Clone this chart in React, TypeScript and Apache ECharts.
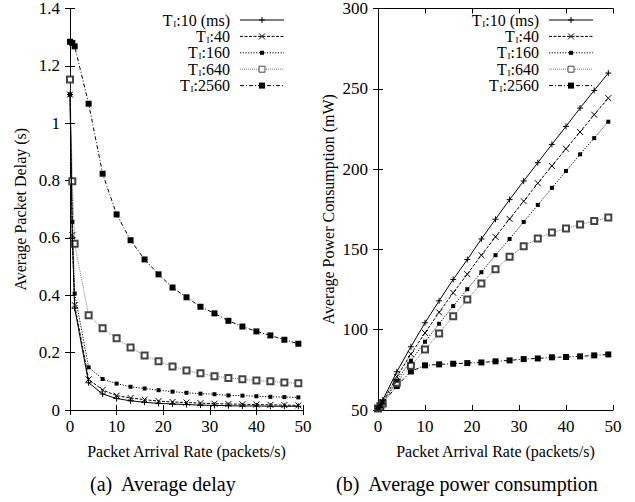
import React, { useEffect, useRef } from "react";
import * as echarts from "echarts";

const xRates = [0, 0.5, 1, 4, 7, 10, 13, 16, 19, 22, 25, 28, 31, 34, 37, 40, 43, 46, 49];
const seriesNames = ["10 (ms)", "40", "160", "640", "2560"];

const delay10 = [1.1, 0.6, 0.355, 0.095, 0.056, 0.04, 0.032, 0.027, 0.023, 0.021, 0.019, 0.017, 0.016, 0.015, 0.014, 0.014, 0.013, 0.013, 0.013];
const delay40 = [1.1, 0.61, 0.366, 0.107, 0.07, 0.05, 0.042, 0.036, 0.031, 0.028, 0.026, 0.024, 0.022, 0.021, 0.02, 0.019, 0.018, 0.017, 0.016];
const delay160 = [1.1, 0.656, 0.406, 0.149, 0.108, 0.092, 0.081, 0.075, 0.069, 0.064, 0.06, 0.057, 0.055, 0.051, 0.05, 0.048, 0.046, 0.045, 0.044];
const delay640 = [1.152, 0.798, 0.58, 0.33, 0.285, 0.25, 0.218, 0.19, 0.17, 0.152, 0.138, 0.128, 0.118, 0.112, 0.107, 0.103, 0.1, 0.096, 0.093];
const delay2560 = [1.284, 1.28, 1.268, 1.068, 0.824, 0.682, 0.592, 0.525, 0.473, 0.427, 0.393, 0.36, 0.337, 0.311, 0.291, 0.274, 0.26, 0.245, 0.231];

const power10 = [51, 53, 56.2, 73.8, 89.4, 104.3, 118, 131.3, 143.7, 156.5, 168.8, 181, 192.6, 204, 215.4, 226.6, 238, 249, 259.8];
const power40 = [51, 52.8, 55, 70.7, 84.8, 98, 110.8, 123, 134.6, 146.4, 157.8, 169, 180, 191.2, 202, 212.7, 223.1, 233.9, 244.2];
const power160 = [51, 52.5, 54.5, 68.2, 80.7, 92.5, 103.7, 114.7, 125.2, 135.8, 146.4, 156.5, 167.1, 177.7, 188.3, 198.8, 209.2, 219.3, 229.5];
const power640 = [51, 52.3, 54, 67, 77.6, 87.7, 97.7, 108.4, 118.8, 128.8, 137.7, 145.4, 152, 156.8, 160.5, 163, 165.5, 167.7, 169.8];
const power2560 = [50.9, 52, 54.2, 64.9, 74, 77.8, 78.4, 78.8, 79.2, 79.6, 80.3, 80.9, 81.7, 82.1, 82.8, 83, 83.4, 84, 84.6];

const FONT = '"Liberation Serif", "Times New Roman", serif';

const styles = [
  { symbol: "path://M0,5L10,5M5,0L5,10", size: 6, dash: "solid" as any, color: "#000" },
  { symbol: "path://M0,0L10,10M10,0L0,10", size: 6, dash: [3, 1.5] as any, color: "#000" },
  { symbol: "rect", size: 4, dash: [1.2, 1.5] as any, color: "#000" },
  { symbol: "emptyRect", size: 6, dash: [1, 1] as any, color: "#777" },
  { symbol: "rect", size: 6, dash: [4, 2, 1, 2] as any, color: "#000" },
];

function pair(ys: number[]) {
  return xRates.map((x, i) => [x, ys[i]]);
}

let measureCtx: CanvasRenderingContext2D | null = null;
function textWidth(text: string, size: number) {
  if (!measureCtx) measureCtx = document.createElement("canvas").getContext("2d");
  if (!measureCtx) return text.length * size * 0.5;
  measureCtx.font = `${size}px ${FONT}`;
  return measureCtx.measureText(text).width;
}

function legendGraphics(textRight: number, lineLeft: number, top: number) {
  const els: any[] = [];
  const lineW = 44;
  const MAIN = 16;
  const SUB = 9;
  seriesNames.forEach((n, i) => {
    const y = top + 16.4 * i;
    const s = styles[i];
    const cx = lineLeft + lineW / 2;
    const tail = `:${n}`;
    const wTail = textWidth(tail, MAIN);
    const wSub = textWidth("I", SUB) + 0.8;
    els.push({
      type: "text", x: textRight, y,
      style: { text: tail, align: "right", verticalAlign: "middle", font: `${MAIN}px ${FONT}`, fill: "#000", lineHeight: 12 },
    });
    els.push({
      type: "text", x: textRight - wTail, y: y + 3.5,
      style: { text: "I", align: "right", verticalAlign: "middle", font: `${SUB}px ${FONT}`, fill: "#000", lineHeight: 7 },
    });
    els.push({
      type: "text", x: textRight - wTail - wSub, y,
      style: { text: "T", align: "right", verticalAlign: "middle", font: `${MAIN}px ${FONT}`, fill: "#000", lineHeight: 12 },
    });
    els.push({
      type: "line",
      shape: { x1: lineLeft, y1: y, x2: lineLeft + lineW, y2: y },
      style: { stroke: s.color, lineWidth: 1, lineDash: s.dash === "solid" ? null : s.dash },
    });
    if (i === 0) {
      els.push({ type: "line", shape: { x1: cx - 3, y1: y, x2: cx + 3, y2: y }, style: { stroke: "#000", lineWidth: 1 } });
      els.push({ type: "line", shape: { x1: cx, y1: y - 3, x2: cx, y2: y + 3 }, style: { stroke: "#000", lineWidth: 1 } });
    } else if (i === 1) {
      els.push({ type: "line", shape: { x1: cx - 3, y1: y - 3, x2: cx + 3, y2: y + 3 }, style: { stroke: "#000", lineWidth: 1 } });
      els.push({ type: "line", shape: { x1: cx - 3, y1: y + 3, x2: cx + 3, y2: y - 3 }, style: { stroke: "#000", lineWidth: 1 } });
    } else if (i === 3) {
      els.push({ type: "rect", shape: { x: cx - 3, y: y - 3, width: 6, height: 6 }, style: { fill: "#fff", stroke: "#444", lineWidth: 1 } });
    } else {
      const sz = s.size;
      els.push({ type: "rect", shape: { x: cx - sz / 2, y: y - sz / 2, width: sz, height: sz }, style: { fill: "#000" } });
    }
  });
  return els;
}

export default function App() {
  const ref = useRef<HTMLDivElement>(null);
  useEffect(() => {
    if (!ref.current) return;
    const chart = echarts.init(ref.current, undefined, { renderer: "svg" });
    const delays = [delay10, delay40, delay160, delay640, delay2560];
    const powers = [power10, power40, power160, power640, power2560];

    const mkSeries = (data: number[][], idx: number, gi: number) => {
      const s = styles[idx];
      const isPath = s.symbol.startsWith("path://");
      return {
        type: "line",
        name: seriesNames[idx],
        xAxisIndex: gi * 2,
        yAxisIndex: gi * 2,
        data,
        symbol: s.symbol,
        symbolSize: s.size,
        lineStyle: { color: s.color, width: 1, type: s.dash },
        itemStyle: isPath
          ? { color: "#000", borderColor: "#000", borderWidth: 1 }
          : s.symbol === "emptyRect"
          ? { color: "#444", borderColor: "#444", borderWidth: 1 }
          : { color: "#000", borderWidth: 0 },
        z: 10 - idx,
      };
    };

    const axisLabelStyle = { fontFamily: FONT, fontSize: 17, color: "#000" };
    const tickIn = { inside: true, length: 5, lineStyle: { color: "#000" } };
    const lineBlack = { show: true, lineStyle: { color: "#000", width: 1 } };

    const grids = [
      { left: 70, top: 8, width: 233, height: 402 },
      { left: 378, top: 8, width: 235, height: 402 },
    ];

    const xAxes: any[] = [];
    const yAxes: any[] = [];
    const yDefs = [
      { min: 0, max: 1.4, interval: 0.2, name: "Average Packet Delay (s)" },
      { min: 50, max: 300, interval: 50, name: "Average Power Consumption (mW)" },
    ];
    [0, 1].forEach((gi) => {
      xAxes.push({
        type: "value", gridIndex: gi, min: 0, max: 50, interval: 10,
        axisLine: lineBlack, axisTick: tickIn, splitLine: { show: false },
        axisLabel: { ...axisLabelStyle, margin: 8 },
        name: "Packet Arrival Rate (packets/s)", nameLocation: "middle", nameGap: 33,
        nameTextStyle: { fontFamily: FONT, fontSize: 16, color: "#000" },
      });
      xAxes.push({
        type: "value", gridIndex: gi, min: 0, max: 50, interval: 10, position: "top",
        axisLine: lineBlack, axisTick: tickIn, splitLine: { show: false },
        axisLabel: { show: false },
      });
      const yd = yDefs[gi];
      yAxes.push({
        type: "value", gridIndex: gi, min: yd.min, max: yd.max, interval: yd.interval,
        axisLine: lineBlack, axisTick: tickIn, splitLine: { show: false },
        axisLabel: { ...axisLabelStyle, margin: 10 },
        name: yd.name, nameLocation: "middle", nameGap: 42,
        nameTextStyle: { fontFamily: FONT, fontSize: 16, color: "#000" },
      });
      yAxes.push({
        type: "value", gridIndex: gi, min: yd.min, max: yd.max, interval: yd.interval, position: "right",
        axisLine: lineBlack, axisTick: tickIn, splitLine: { show: false },
        axisLabel: { show: false },
      });
    });

    const series: any[] = [];
    delays.forEach((d, i) => series.push(mkSeries(pair(d), i, 0)));
    powers.forEach((p, i) => series.push(mkSeries(pair(p), i, 1)));

    chart.setOption({
      animation: false,
      grid: grids,
      xAxis: xAxes,
      yAxis: yAxes,
      series,
      graphic: [
        ...legendGraphics(230, 240, 20),
        ...legendGraphics(539, 549, 20),
        { type: "text", left: 90, top: 474, style: { text: "(a)  Average delay", font: `20px ${FONT}`, fill: "#000" } },
        { type: "text", left: 336, top: 474, style: { text: "(b)  Average power consumption", font: `20px ${FONT}`, fill: "#000" } },
      ],
    });
    return () => chart.dispose();
  }, []);
  return <div ref={ref} style={{ position: "absolute", left: 0, top: 0, width: 635, height: 502, background: "#fff" }} />;
}
